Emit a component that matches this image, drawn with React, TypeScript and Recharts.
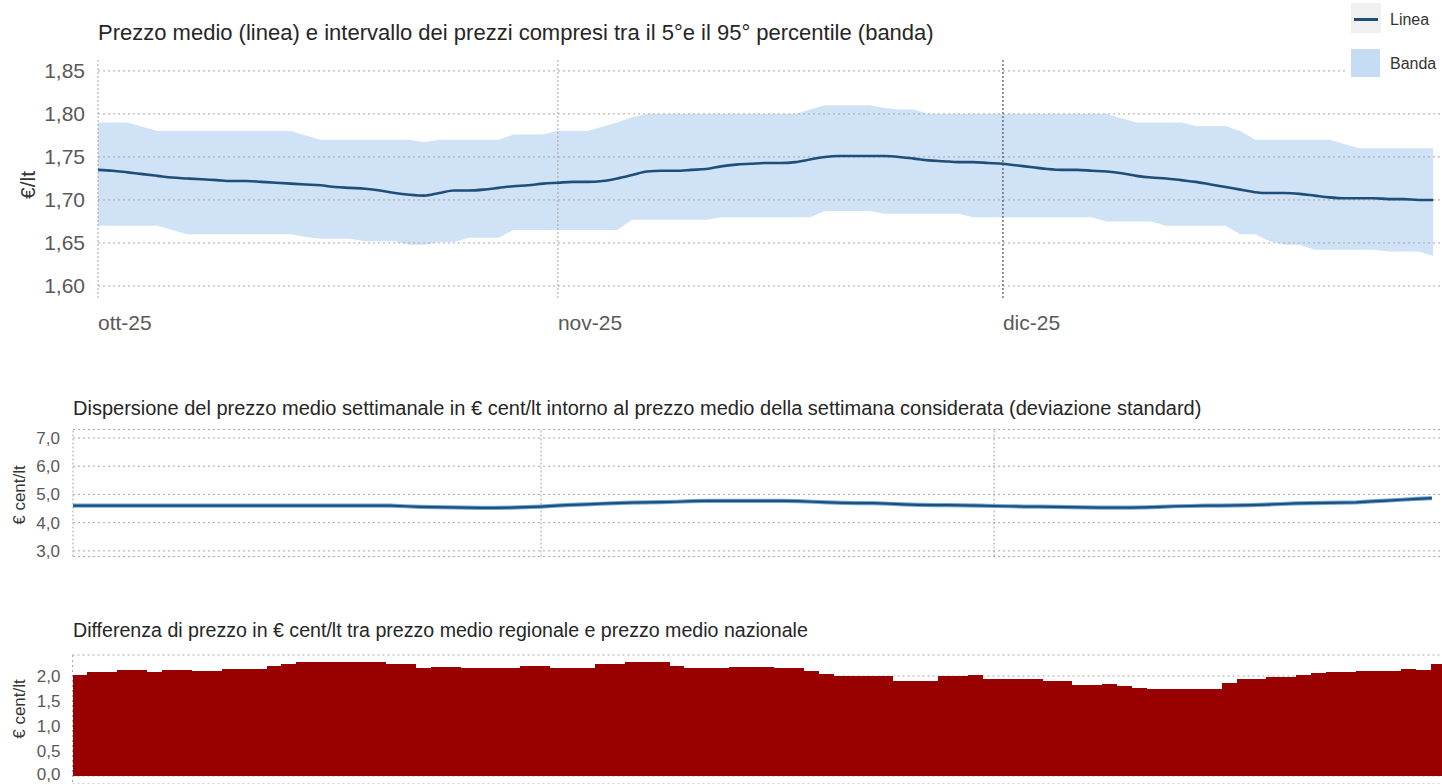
import React from 'react';
import {
  ComposedChart,
  LineChart,
  BarChart,
  Area,
  Line,
  Bar,
  XAxis,
  YAxis,
  CartesianGrid,
  ReferenceLine
} from 'recharts';

const FONT = "'Liberation Sans', Arial, sans-serif";

// giorni dal 1 ottobre 2025: tick di inizio mese
const monthTicks = [0, 31, 61];
const monthLabels = ['ott-25', 'nov-25', 'dic-25'];

const prezzoTicks = [1.6, 1.65, 1.7, 1.75, 1.8, 1.85];
const devTicks = [3, 4, 5, 6, 7];
const diffTicks = [0, 0.5, 1, 1.5, 2];

// prezzo medio giornaliero (€/lt), 1 ott - 30 dic
const mediaPrezzo = [
  1.735, 1.734, 1.732, 1.73, 1.728, 1.726, 1.725, 1.724, 1.723, 1.722,
  1.722, 1.721, 1.72, 1.719, 1.718, 1.717, 1.715, 1.714, 1.713, 1.711,
  1.708, 1.706, 1.705, 1.708, 1.711, 1.711, 1.712, 1.714, 1.716, 1.717,
  1.719, 1.72, 1.721, 1.721, 1.722, 1.725, 1.729, 1.733, 1.734, 1.734,
  1.735, 1.736, 1.739, 1.741, 1.742, 1.743, 1.743, 1.744, 1.747, 1.75,
  1.751, 1.751, 1.751, 1.751, 1.75, 1.748, 1.746, 1.745, 1.744, 1.744,
  1.743, 1.742, 1.74, 1.738, 1.736, 1.735, 1.735, 1.734, 1.733, 1.731,
  1.728, 1.726, 1.725, 1.723, 1.721, 1.718, 1.715, 1.712, 1.709, 1.708,
  1.708, 1.707, 1.705, 1.703, 1.702, 1.702, 1.702, 1.701, 1.701, 1.7,
  1.7
];

// 5° percentile
const bandaBassa = [
  1.67, 1.67, 1.67, 1.67, 1.67, 1.665, 1.66, 1.66, 1.66, 1.66,
  1.66, 1.66, 1.66, 1.66, 1.657, 1.655, 1.655, 1.655, 1.652, 1.652,
  1.652, 1.648, 1.648, 1.651, 1.651, 1.656, 1.656, 1.656, 1.665, 1.665,
  1.665, 1.665, 1.665, 1.665, 1.665, 1.665, 1.677, 1.677, 1.677, 1.677,
  1.677, 1.677, 1.68, 1.68, 1.68, 1.68, 1.68, 1.68, 1.68, 1.687,
  1.687, 1.687, 1.687, 1.684, 1.684, 1.684, 1.684, 1.684, 1.684, 1.68,
  1.68, 1.68, 1.68, 1.68, 1.68, 1.68, 1.68, 1.68, 1.675, 1.675,
  1.675, 1.675, 1.67, 1.67, 1.67, 1.67, 1.67, 1.66, 1.66, 1.652,
  1.648, 1.648, 1.642, 1.642, 1.642, 1.642, 1.642, 1.64, 1.64, 1.64,
  1.635
];

// 95° percentile
const bandaAlta = [
  1.79, 1.79, 1.79, 1.785, 1.78, 1.78, 1.78, 1.78, 1.78, 1.78,
  1.78, 1.78, 1.78, 1.78, 1.775, 1.77, 1.77, 1.77, 1.77, 1.77,
  1.77, 1.77, 1.767, 1.77, 1.77, 1.77, 1.77, 1.77, 1.776, 1.776,
  1.776, 1.78, 1.78, 1.78, 1.785, 1.79, 1.796, 1.8, 1.8, 1.8,
  1.8, 1.8, 1.8, 1.8, 1.8, 1.8, 1.8, 1.8, 1.805, 1.81,
  1.81, 1.81, 1.81, 1.807, 1.805, 1.805, 1.8, 1.8, 1.8, 1.8,
  1.8, 1.8, 1.8, 1.8, 1.8, 1.8, 1.8, 1.8, 1.8, 1.795,
  1.79, 1.79, 1.79, 1.79, 1.786, 1.786, 1.786, 1.78, 1.77, 1.77,
  1.77, 1.77, 1.77, 1.77, 1.765, 1.76, 1.76, 1.76, 1.76, 1.76,
  1.76
];

// deviazione standard (€ cent/lt)
const deviazioneStd = [
  4.6, 4.6, 4.6, 4.6, 4.6, 4.6, 4.6, 4.6, 4.6, 4.6,
  4.6, 4.6, 4.6, 4.6, 4.6, 4.6, 4.6, 4.6, 4.6, 4.6,
  4.6, 4.6, 4.58, 4.56, 4.55, 4.54, 4.53, 4.52, 4.52, 4.53,
  4.55, 4.57, 4.6, 4.63, 4.65, 4.67, 4.69, 4.71, 4.72, 4.73,
  4.74, 4.76, 4.77, 4.77, 4.77, 4.77, 4.77, 4.77, 4.76, 4.74,
  4.72, 4.7, 4.69, 4.69, 4.67, 4.65, 4.63, 4.62, 4.62, 4.61,
  4.6, 4.59, 4.58, 4.57, 4.57, 4.56, 4.55, 4.54, 4.53, 4.53,
  4.53, 4.54, 4.56, 4.58, 4.59, 4.6, 4.6, 4.61, 4.62, 4.64,
  4.66, 4.68, 4.69, 4.7, 4.71, 4.72, 4.75, 4.78, 4.81, 4.84,
  4.87
];

// differenza regionale - nazionale (€ cent/lt), 1 ott - 31 dic
const differenza = [
  2.03, 2.09, 2.09, 2.13, 2.13, 2.09, 2.13, 2.13, 2.11, 2.11,
  2.15, 2.15, 2.15, 2.2, 2.25, 2.29, 2.29, 2.29, 2.29, 2.29,
  2.29, 2.25, 2.25, 2.17, 2.19, 2.19, 2.17, 2.17, 2.17, 2.17,
  2.2, 2.2, 2.17, 2.17, 2.17, 2.25, 2.25, 2.28, 2.28, 2.28,
  2.2, 2.17, 2.17, 2.17, 2.19, 2.19, 2.19, 2.17, 2.17, 2.1,
  2.05, 2.0, 2.0, 2.0, 2.0, 1.91, 1.91, 1.91, 2.0, 2.0,
  2.02, 1.95, 1.95, 1.95, 1.95, 1.91, 1.91, 1.83, 1.83, 1.85,
  1.8, 1.76, 1.75, 1.75, 1.75, 1.74, 1.74, 1.87, 1.94, 1.94,
  1.98, 1.98, 2.03, 2.06, 2.08, 2.08, 2.11, 2.11, 2.11, 2.14,
  2.13, 2.24
];

const prezziData = mediaPrezzo.map((v, i) => ({
  day: i,
  media: v,
  banda: [bandaBassa[i], bandaAlta[i]]
}));
const devData = deviazioneStd.map((v, i) => ({ day: i, dev: v }));
const diffData = differenza.map((v, i) => ({ day: i, diff: v }));

const fmt = (d: number) => (v: number) => v.toFixed(d).replace('.', ',');

const MonthTick = (props: any) => {
  const { x, y, payload } = props;
  const i = monthTicks.indexOf(payload.value);
  return (
    <text x={x} y={y + 25} dy="0.355em" textAnchor="start" fill="#595959" fontSize={21} fontFamily={FONT}>
      {monthLabels[i]}
    </text>
  );
};

// etichetta asse Y del terzo grafico: l'ultima (0,0) resta dentro il riquadro
const DiffTick = (props: any) => {
  const { x, y, payload } = props;
  return (
    <text x={x} y={Math.min(y, 134)} dy="0.355em" textAnchor="end" fill="#595959" fontSize={17} fontFamily={FONT}>
      {fmt(1)(payload.value)}
    </text>
  );
};

const GRID = '#a6a6a6';

const App = () => {
  return (
    <div style={{ position: 'relative', width: 1442, height: 784, overflow: 'hidden', background: '#fff', fontFamily: FONT }}>
      <style>{'body{margin:0;overflow:hidden}'}</style>

      {/* titoli */}
      <div style={{ position: 'absolute', left: 98, top: 20, fontSize: 22, lineHeight: '26px', color: '#262626', whiteSpace: 'nowrap' }}>
        Prezzo medio (linea) e intervallo dei prezzi compresi tra il 5°e il 95° percentile (banda)
      </div>
      <div style={{ position: 'absolute', left: 73, top: 396, fontSize: 20, lineHeight: '24px', color: '#262626', whiteSpace: 'nowrap' }}>
        Dispersione del prezzo medio settimanale in € cent/lt intorno al prezzo medio della settimana considerata (deviazione standard)
      </div>
      <div style={{ position: 'absolute', left: 73, top: 618, fontSize: 19.6, lineHeight: '24px', color: '#262626', whiteSpace: 'nowrap' }}>
        Differenza di prezzo in € cent/lt tra prezzo medio regionale e prezzo medio nazionale
      </div>

      {/* grafico 1 */}
      <div style={{ position: 'absolute', left: 0, top: 0 }}>
        <ComposedChart width={1448} height={340} data={prezziData} margin={{ top: 58, right: 0, bottom: 0, left: 0 }}>
          <XAxis
            type="number"
            dataKey="day"
            domain={[0, 91]}
            ticks={monthTicks}
            interval={0}
            axisLine={false}
            tickLine={false}
            tickSize={0}
            tickMargin={0}
            height={42}
            tick={<MonthTick />}
            allowDataOverflow
          />
          <YAxis
            type="number"
            domain={[1.586, 1.865]}
            ticks={prezzoTicks}
            interval={0}
            width={98}
            axisLine={false}
            tickLine={false}
            tickSize={0}
            tickMargin={13}
            tick={{ fill: '#595959', fontSize: 21, fontFamily: FONT }}
            tickFormatter={fmt(2)}
            allowDataOverflow
          />
          <Area dataKey="banda" type="linear" stroke="none" fill="#cfe2f6" fillOpacity={1} isAnimationActive={false} />
          {prezzoTicks.map((t) => (
            <ReferenceLine key={t} y={t} stroke={GRID} strokeDasharray="2 3" />
          ))}
          <ReferenceLine x={0} stroke={GRID} strokeDasharray="2 2" />
          <ReferenceLine x={31} stroke={GRID} strokeDasharray="2 2" />
          <ReferenceLine x={61} stroke="#333" strokeDasharray="2 2" />
          <Line dataKey="media" type="monotone" stroke="#1f4e79" strokeWidth={2.6} dot={false} isAnimationActive={false} />
        </ComposedChart>
      </div>

      {/* legenda */}
      <div style={{ position: 'absolute', left: 1345, top: 0, width: 97, height: 80, background: '#fff' }}>
        <div style={{ position: 'absolute', left: 6, top: 3, width: 30, height: 30, background: '#f0f0f0' }}>
          <div style={{ position: 'absolute', left: 3, top: 15, width: 24, height: 3, background: '#1f4e79' }} />
        </div>
        <div style={{ position: 'absolute', left: 45, top: 8, fontSize: 16, lineHeight: '24px', color: '#333' }}>Linea</div>
        <div style={{ position: 'absolute', left: 6, top: 49, width: 29, height: 28, background: '#c6dcf2' }} />
        <div style={{ position: 'absolute', left: 45, top: 52, fontSize: 16, lineHeight: '24px', color: '#333' }}>Banda</div>
      </div>

      {/* etichette assi */}
      <div style={{ position: 'absolute', left: 28, top: 185, transform: 'translate(-50%,-50%) rotate(-90deg)', fontSize: 21, color: '#333', whiteSpace: 'nowrap' }}>
        €/lt
      </div>
      <div style={{ position: 'absolute', left: 20, top: 495, transform: 'translate(-50%,-50%) rotate(-90deg)', fontSize: 17, color: '#333', whiteSpace: 'nowrap' }}>
        € cent/lt
      </div>
      <div style={{ position: 'absolute', left: 20, top: 709, transform: 'translate(-50%,-50%) rotate(-90deg)', fontSize: 17, color: '#333', whiteSpace: 'nowrap' }}>
        € cent/lt
      </div>

      {/* grafico 2 */}
      <div style={{ position: 'absolute', left: 0, top: 420 }}>
        <LineChart width={1447} height={150} data={devData} margin={{ top: 9.5, right: 0, bottom: 13.5, left: 0 }}>
          <CartesianGrid vertical={false} stroke={GRID} strokeDasharray="2 3" />
          <XAxis type="number" dataKey="day" domain={[0, 91]} hide height={0} allowDataOverflow />
          <YAxis
            type="number"
            domain={[2.8, 7.3]}
            ticks={devTicks}
            interval={0}
            width={73}
            axisLine={false}
            tickLine={false}
            tickSize={0}
            tickMargin={13}
            tick={{ fill: '#595959', fontSize: 17, fontFamily: FONT }}
            tickFormatter={fmt(1)}
            allowDataOverflow
          />
          {monthTicks.map((t) => (
            <ReferenceLine key={t} x={t} stroke={GRID} strokeDasharray="2 2" />
          ))}
          <Line dataKey="dev" type="linear" stroke="#6fa8dc" strokeWidth={4.2} dot={false} isAnimationActive={false} />
          <Line dataKey="dev" type="linear" stroke="#1f4e79" strokeWidth={2.2} dot={false} isAnimationActive={false} />
        </LineChart>
      </div>

      {/* grafico 3 */}
      <div style={{ position: 'absolute', left: 0, top: 640 }}>
        <BarChart
          width={1446}
          height={144}
          data={diffData}
          margin={{ top: 15, right: 0.5, bottom: 0, left: 0.5 }}
          barCategoryGap={0}
          barGap={0}
        >
          <CartesianGrid stroke={GRID} strokeDasharray="2 3" />
          <XAxis
            dataKey="day"
            ticks={monthTicks}
            interval={0}
            height={0}
            tick={false}
            axisLine={false}
            tickLine={false}
          />
          <YAxis
            type="number"
            domain={[-0.16, 2.42]}
            ticks={diffTicks}
            interval={0}
            width={72}
            axisLine={false}
            tickLine={false}
            tickSize={0}
            tickMargin={12}
            tick={<DiffTick />}
            allowDataOverflow
          />
          <Bar dataKey="diff" fill="#990000" shapeRendering="crispEdges" isAnimationActive={false} />
        </BarChart>
      </div>
    </div>
  );
};

export default App;
